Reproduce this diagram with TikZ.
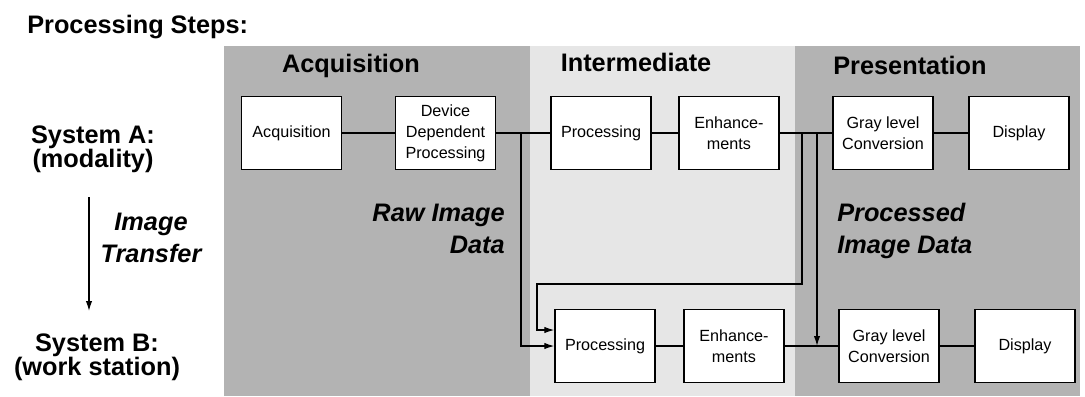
\documentclass[tikz,border=0pt]{standalone}
\usepackage{fontspec}
\setmainfont{Liberation Sans}
\usetikzlibrary{arrows.meta}
\definecolor{darkband}{HTML}{B3B3B3}
\definecolor{lightband}{HTML}{E6E6E6}
\begin{document}
\begin{tikzpicture}[x=0.025cm,y=-0.025cm,
  box/.style={draw,fill=white,line width=0.9pt,minimum width=2.5cm,minimum height=1.825cm,
    inner sep=0pt,align=center,font=\fontsize{11.5}{15}\selectfont},
  big/.style={inner sep=0pt,font=\fontsize{18}{17}\selectfont\bfseries},
  bigit/.style={inner sep=0pt,font=\fontsize{18}{22.5}\selectfont\bfseries\itshape},
  wire/.style={line width=0.9pt},
  feed/.style={wire,-{Latex[length=2.5mm,width=1.6mm]}}]
  \useasboundingbox (0,0) rectangle (1085,396);
  \fill[darkband] (224,46) rectangle (530,396);
  \fill[lightband] (530,46) rectangle (795,396);
  \fill[darkband] (795,46) rectangle (1080,396);

  \node[big,anchor=base west] (title) at (27,33) {Processing Steps:};
  \node[big,anchor=base] (hacq) at (351,72) {Acquisition};
  \node[big,anchor=base] (hint) at (636,71) {Intermediate};
  \node[big,anchor=base] (hpres) at (910,74) {Presentation};
  \node[big,align=center,anchor=base] (sysa) at (93,167) {System A:\\(modality)};
  \node[big,align=center,anchor=base] (sysb) at (97,375) {System B:\\(work station)};
  \node[bigit,align=center,anchor=base] (xfer) at (151,262) {Image\\Transfer};
  \node[bigit,align=right,anchor=base east] (raw) at (505,253) {Raw Image\\Data};
  \node[bigit,align=left,anchor=base west] (processed) at (837,253) {Processed\\Image Data};

  \node[box] (acq) at (291.5,133) {Acquisition};
  \node[box] (ddp) at (445.5,133) {Device\\Dependent\\Processing};
  \node[box] (proca) at (601,133) {Processing};
  \node[box] (enha) at (729,133) {Enhance-\\ments};
  \node[box] (graya) at (883,133) {Gray level\\Conversion};
  \node[box] (dispa) at (1019,133) {Display};
  \node[box] (procb) at (605,346) {Processing};
  \node[box] (enhb) at (734,346) {Enhance-\\ments};
  \node[box] (grayb) at (889,346) {Gray level\\Conversion};
  \node[box] (dispb) at (1025,346) {Display};

  \coordinate (rawsplit) at (521,133);
  \coordinate (procsplit) at (802,133);
  \coordinate (loopcorner) at (537,284);
  \coordinate (dispsplit) at (817,133);
  \coordinate (xfertop) at (89,197);
  \coordinate (xferbot) at (89,311);

  \draw[wire] (acq) -- (ddp);
  \draw[wire] (ddp) -- (proca);
  \draw[wire] (proca) -- (enha);
  \draw[wire] (enha) -- (graya);
  \draw[wire] (graya) -- (dispa);
  \draw[wire] (procb) -- (enhb);
  \draw[wire] (enhb) -- (grayb);
  \draw[wire] (grayb) -- (dispb);
  \draw[feed] (rawsplit) |- (procb.west);
  \draw[feed] (procsplit) |- (loopcorner) |- ([yshift=0.4cm]procb.west);
  \draw[feed] (dispsplit) -- (dispsplit |- enhb.east);
  \draw[feed] (xfertop) -- (xferbot);
\end{tikzpicture}
\end{document}
